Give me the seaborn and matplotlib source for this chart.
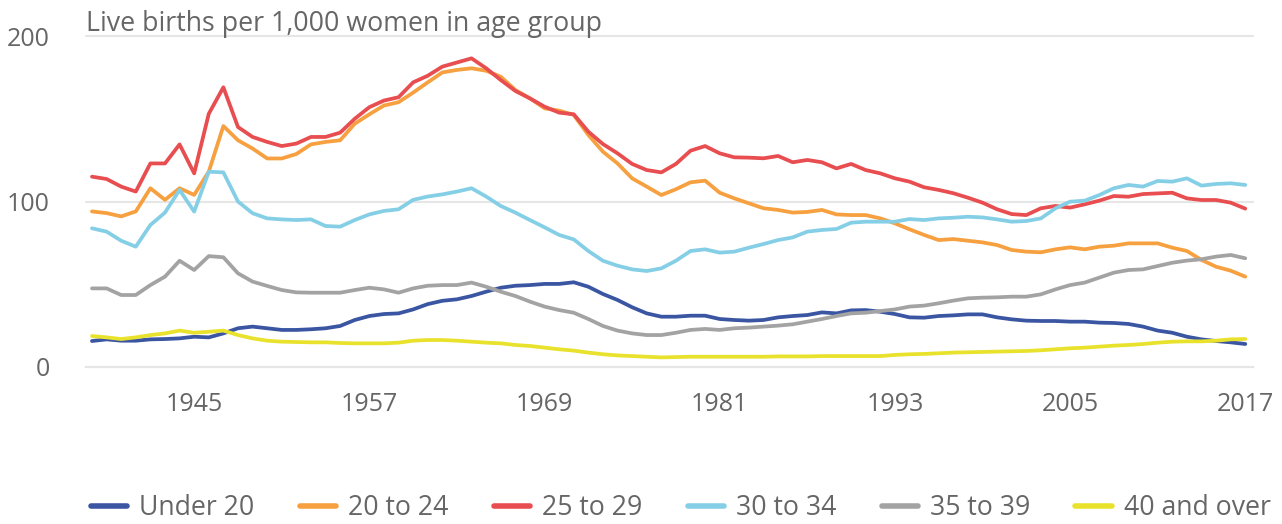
import seaborn as sns
import pandas as pd
import matplotlib.pyplot as plt

years = list(range(1938, 2018))

under_20 = [15.7, 16.7, 15.9, 15.9, 16.7, 16.9, 17.3, 18.3, 17.9, 20.3, 23.4, 24.4, 23.4, 22.4, 22.4, 22.8, 23.4, 24.8, 28.4, 30.8, 32.0, 32.4, 34.8, 38.0, 40.0, 40.9, 42.9,
            45.5, 47.9, 49.1, 49.5, 50.2, 50.2, 51.2, 48.5, 44.1, 40.5, 36.1, 32.4, 30.4, 30.4, 31.0, 31.0, 29.0, 28.4, 28.0, 28.4, 30.0, 30.8, 31.4, 33.0, 32.4, 34.2,
            34.4, 33.4, 32.0, 30.0, 29.8, 30.8, 31.2, 31.8, 31.8, 30.0, 28.8, 28.0, 27.8, 27.8, 27.4, 27.4, 26.8, 26.6, 26.0, 24.4, 22.0, 20.7, 18.3, 16.7, 15.7, 14.9, 13.9]
age_20_24 = [94, 93, 91, 94, 108, 101, 108, 104, 118, 145.6, 137, 132, 126, 126, 128.7, 134.5, 136, 137, 147, 152.7, 158, 160, 165.8, 172, 178, 179.5, 180.5,
             179, 175.4, 167.4, 162.3, 156.3, 154.9, 152.3, 140.2, 130.1, 123, 114, 109, 103.9, 107.4, 111.6, 112.6, 105.3, 101.9, 98.9, 95.9, 94.9, 93.3, 93.7, 94.9, 92.2, 91.8,
             91.8, 89.8, 86.8, 83.2, 79.8, 76.7, 77.3, 76.3, 75.3, 73.7, 70.7, 69.7, 69.3, 71.1, 72.3, 71.1, 72.7, 73.3, 74.7, 74.7, 74.7, 72.1, 70.1, 64.7, 60.6, 58.2, 54.6]
age_25_29 = [115, 113.6, 109, 106, 123, 123, 134.5, 117, 153, 169, 145, 139, 136, 133.5, 135, 139, 139, 141.6, 150, 157, 161, 163, 172, 176, 181.5, 184, 186.5,
             180.5, 173.4, 166.8, 162.3, 157.3, 153.7, 152.7, 142.2, 134.7, 129.1, 122.7, 119, 117.6, 122.7, 130.7, 133.5, 129.1, 126.7, 126.5, 126.1, 127.5, 123.7, 125.1, 123.7, 120, 122.7,
             119, 117, 114, 112, 108.6, 107, 105, 102.3, 99.3, 95.3, 92.4, 91.8, 95.9, 97.3, 96.3, 98.3, 100.5, 103.3, 102.9, 104.5, 104.9, 105.3, 101.9, 100.9, 100.9, 99.3, 95.7]
age_30_34 = [83.8, 81.8, 76.3, 72.7, 85.8, 93.3, 107, 93.9, 118, 117.6, 100, 92.9, 89.8, 89.2, 88.8, 89.2, 85.2, 84.8, 88.8, 92.2, 94.3, 95.3, 101, 103, 104.3, 106, 108,
             103, 97.3, 93.3, 88.8, 84.4, 79.8, 77.1, 70.1, 64.2, 61.2, 59, 58, 59.6, 64.2, 70.1, 71.1, 69.1, 69.7, 72.1, 74.3, 76.7, 78.3, 81.8, 82.8, 83.4, 87.2,
             87.8, 87.8, 87.8, 89.4, 88.8, 89.8, 90.2, 90.8, 90.4, 89.2, 87.8, 88.2, 89.8, 95.9, 99.9, 100.5, 103.9, 108, 110, 109, 112.4, 112, 114, 109.6, 110.6, 111, 110]
age_35_39 = [47.5, 47.5, 43.5, 43.5, 49.5, 54.6, 64.2, 58.6, 67, 66.3, 56.6, 51.6, 49, 46.5, 45.1, 44.9, 44.9, 44.9, 46.5, 47.9, 46.9, 44.9, 47.5, 49.1, 49.5, 49.5, 51,
             48.5, 45.5, 42.9, 39.5, 36.5, 34.4, 32.8, 29, 24.8, 22, 20.3, 19.3, 19.3, 20.7, 22.4, 23, 22.4, 23.4, 23.8, 24.4, 25, 25.8, 27.4, 29, 30.8, 32.4,
             32.8, 33.8, 34.8, 36.5, 37.1, 38.5, 40.1, 41.5, 41.9, 42.1, 42.5, 42.5, 43.9, 46.9, 49.5, 51, 54, 57, 58.6, 59, 61, 63, 64.3, 65.1, 66.7, 67.7, 65.7]
age_40_over = [18.7, 17.9, 16.9, 17.9, 19.3, 20.3, 22, 20.7, 21.3, 22, 19.3, 17.3, 15.9, 15.3, 15.1, 14.9, 14.9, 14.5, 14.3, 14.3, 14.3, 14.7, 15.9, 16.3, 16.3, 15.9, 15.3,
               14.7, 14.3, 13.3, 12.7, 11.7, 10.7, 9.9, 8.7, 7.7, 7, 6.6, 6.2, 5.8, 6, 6.2, 6.2, 6.2, 6.2, 6.2, 6.2, 6.4, 6.4, 6.4, 6.6, 6.6, 6.6,
               6.6, 6.6, 7.3, 7.7, 7.9, 8.3, 8.7, 8.9, 9.1, 9.3, 9.5, 9.7, 10.1, 10.7, 11.3, 11.7, 12.3, 12.9, 13.3, 13.9, 14.7, 15.3, 15.5, 15.5, 15.9, 16.7, 16.9]

groups = ["Under 20", "20 to 24", "25 to 29", "30 to 34", "35 to 39", "40 and over"]
series = [under_20, age_20_24, age_25_29, age_30_34, age_35_39, age_40_over]
colors = ["#3a55a2", "#f6a03f", "#e84d4f", "#85cfe6", "#a3a3a3", "#e9e22c"]

x_ticks = [1945, 1957, 1969, 1981, 1993, 2005, 2017]
y_ticks = [0, 100, 200]

# long form table for seaborn
frames = []
for name, vals in zip(groups, series):
    frames.append(pd.DataFrame({'year': years, 'rate': vals, 'group': name}))
df = pd.concat(frames, ignore_index=True)

sns.set_style('white')
plt.rcParams['font.family'] = ['Open Sans', 'DejaVu Sans']

text_col = '#666666'
axis_col = '#ccd6eb'

fig = plt.figure(figsize=(12.82, 5.24), dpi=100)
ax = fig.add_axes([86 / 1282, 1 - 367 / 524, (1253 - 86) / 1282, (367 - 36) / 524])

sns.lineplot(data=df, x='year', y='rate', hue='group', hue_order=groups,
             palette=colors, linewidth=2.7, ax=ax)
for ln in ax.get_lines():
    ln.set_solid_joinstyle('round')
    ln.set_solid_capstyle('round')

ax.set_xlim(1937.59, 2017.53)
ax.set_ylim(0, 200)
ax.set_xticks(x_ticks)
ax.set_yticks(y_ticks)
ax.set_xlabel('')
ax.set_ylabel('')

for s in ['top', 'right', 'left']:
    ax.spines[s].set_visible(False)
ax.spines['bottom'].set_color(axis_col)
ax.spines['bottom'].set_linewidth(1.5)
ax.spines['bottom'].set_zorder(0.5)

ax.yaxis.grid(True, color='#e6e6e6', linewidth=1.5)
ax.set_axisbelow(True)
for gl in ax.get_ygridlines():
    gl.set_clip_on(False)

ax.tick_params(axis='x', length=15, width=1.2, color=axis_col, labelcolor=text_col,
               labelsize=18, pad=3)
ax.tick_params(axis='y', length=0, labelsize=18, labelcolor=text_col, pad=26)

fig.text(86 / 1282, 1 - 31 / 524, 'Live births per 1,000 women in age group',
         fontsize=19.3, color=text_col, va='baseline', ha='left')

handles, labels = ax.get_legend_handles_labels()
ax.get_legend().remove()
leg = fig.legend(handles, labels, loc='center', bbox_to_anchor=(0.531, 1 - 508 / 524),
                 ncol=6, frameon=False, fontsize=19.2, handlelength=1.36,
                 handletextpad=0.45, columnspacing=1.7, labelcolor=text_col)
for h in leg.legend_handles:
    h.set_linewidth(4)

plt.savefig('out.png', dpi=100)
